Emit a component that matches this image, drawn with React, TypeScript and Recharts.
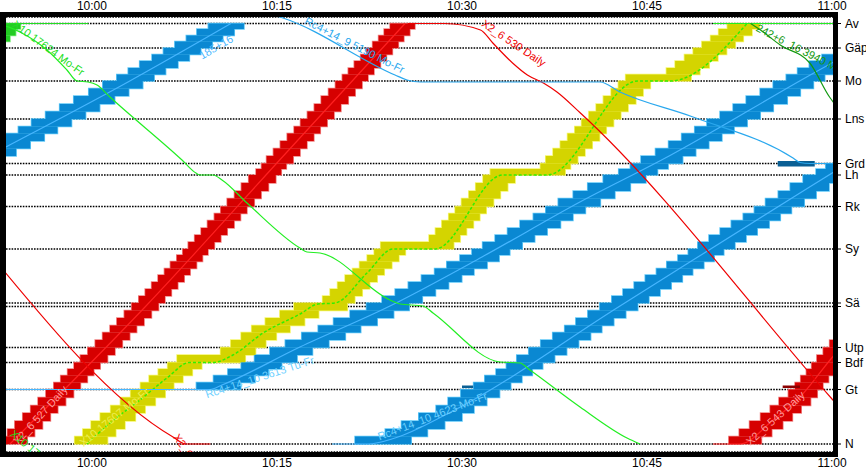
import React from "react";
import { ComposedChart, XAxis, YAxis, CartesianGrid, Line, ReferenceArea, Scatter } from "recharts";

type Pt = { t: number; km: number };

// stations (km from N), top to bottom
const STATIONS = ["Av", "Gäp", "Mo", "Lns", "Grd", "Lh", "Rk", "Sy", "Sä", "Utp", "Bdf", "Gt", "N"];
const STATION_KM = [84.1, 79.2, 72.6, 65.0, 56.1, 53.8, 47.5, 39.0, 28.2, 19.3, 16.3, 10.9, 0];
const SECOND_TRACK_KM = [27.5];

// block signals
const SIGNALS_KM = [
  0, 1.5, 3.0, 4.6, 6.2, 7.7, 9.3, 10.9, 12.3, 13.7, 15.0, 16.3, 17.8, 19.3, 20.8, 22.3, 23.7, 25.2, 26.7,
  28.2, 29.6, 31.0, 32.4, 33.8, 35.1, 36.5, 37.8, 39.0, 40.4, 41.8, 43.2, 44.7, 46.1, 47.5, 49.1, 50.6, 52.2,
  53.8, 55.0, 56.1, 57.6, 59.1, 60.6, 62.1, 63.5, 65.0, 66.5, 68.0, 69.6, 71.1, 72.6, 73.9, 75.2, 76.6, 77.9,
  79.2, 80.5, 81.7, 83.0, 84.1,
];

// minutes after 10:00
const TIME_TICKS = [0, 15, 30, 45, 60];

const RUN_185_16: Pt[] = [
  { t: -11.3, km: 53.8 }, { t: -6.97, km: 59.4 }, { t: 2.92, km: 72.4 }, { t: 11.27, km: 84.1 },
];
const RUN_X2_UP: Pt[] = [
  { t: -6.65, km: 0 }, { t: 4.3, km: 27.4 }, { t: 15.81, km: 58.4 }, { t: 25.38, km: 84.1 },
];
const RUN_X2_530: Pt[] = [
  { t: 25.6, km: 84.1 }, { t: 28.6, km: 84.1 }, { t: 31.5, km: 82.8 }, { t: 32.5, km: 80.2 },
  { t: 34.1, km: 76.2 }, { t: 35.3, km: 73.8 }, { t: 36.6, km: 72.2 }, { t: 37.7, km: 70.4 },
  { t: 39.6, km: 66.2 }, { t: 60.0, km: 9.0 }, { t: 61.5, km: 4.8 },
];
const RUN_X2_DOWN: Pt[] = [
  { t: -8.6, km: 39.0 }, { t: 6.57, km: 1.4 }, { t: 7.6, km: 0 }, { t: 9.6, km: 0 },
];
const RUN_X10_17624: Pt[] = [
  { t: -7.6, km: 84.1 }, { t: -5.84, km: 82.4 }, { t: -3.65, km: 78.8 }, { t: -2.03, km: 74.8 },
  { t: -1.22, km: 72.6 }, { t: -0.32, km: 72.4 }, { t: 0.41, km: 71.8 }, { t: 1.46, km: 69.4 },
  { t: 7.3, km: 56.8 }, { t: 8.43, km: 54.2 }, { t: 8.76, km: 53.8 }, { t: 9.81, km: 53.8 },
  { t: 10.54, km: 52.8 }, { t: 12.57, km: 48.2 }, { t: 16.86, km: 39.2 }, { t: 17.43, km: 38.4 },
  { t: 18.49, km: 38.2 }, { t: 24.16, km: 28.8 }, { t: 24.97, km: 28.0 }, { t: 26.84, km: 27.6 },
  { t: 27.65, km: 26.2 }, { t: 33.08, km: 16.4 }, { t: 34.7, km: 16.2 }, { t: 35.51, km: 14.8 },
  { t: 39.57, km: 7.4 }, { t: 43.38, km: 1.2 }, { t: 44.43, km: 0 },
];
const RUN_X10_ARR: Pt[] = [
  { t: -13, km: 66.0 }, { t: -6.6, km: 84.1 }, { t: -0.3, km: 84.1 },
];
const RUN_X10_17607: Pt[] = [
  { t: -0.4, km: 0 }, { t: 1.46, km: 4.2 }, { t: 3.89, km: 8.8 }, { t: 6.08, km: 13.2 },
  { t: 7.9, km: 16.3 }, { t: 9.81, km: 16.3 }, { t: 11.43, km: 17.8 }, { t: 13.87, km: 22.2 },
  { t: 16.87, km: 26.0 }, { t: 18.33, km: 28.0 }, { t: 19.7, km: 28.2 }, { t: 22.3, km: 34.2 },
  { t: 24.41, km: 39.0 }, { t: 27.81, km: 39.0 }, { t: 33.3, km: 53.8 }, { t: 36.89, km: 53.8 },
  { t: 44.27, km: 72.6 }, { t: 46.87, km: 72.6 }, { t: 53.11, km: 84.1 },
];
const RUN_AV_DWELL: Pt[] = [{ t: 50.35, km: 84.1 }, { t: 61, km: 84.1 }];
const RUN_242_6: Pt[] = [
  { t: 53.4, km: 84.1 }, { t: 54.2, km: 82.8 }, { t: 55.8, km: 79.8 }, { t: 58.2, km: 76.2 },
  { t: 59.8, km: 69.4 }, { t: 61, km: 65.8 },
];
const RUN_RC_3613: Pt[] = [
  { t: -8, km: 10.9 }, { t: 9.57, km: 10.9 }, { t: 10.54, km: 11.8 }, { t: 16.86, km: 19.4 },
  { t: 24.16, km: 27.6 }, { t: 31.62, km: 37.4 }, { t: 39.41, km: 48.2 }, { t: 46.79, km: 57.6 },
  { t: 58.38, km: 74.0 }, { t: 61.46, km: 78.2 },
];
const RUN_RC_4623: Pt[] = [
  { t: 19.46, km: 0 }, { t: 22.38, km: 0 }, { t: 24.57, km: 1.2 }, { t: 28.95, km: 6.2 },
  { t: 42.81, km: 27.6 }, { t: 58.05, km: 51.2 }, { t: 61.46, km: 56.4 },
];
const RUN_RC_5190: Pt[] = [
  { t: 14.43, km: 86.0 }, { t: 15.49, km: 85.2 }, { t: 24.57, km: 73.8 }, { t: 25.54, km: 72.8 },
  { t: 26.6, km: 72.4 }, { t: 41.19, km: 72.4 }, { t: 42.81, km: 70.4 }, { t: 48.73, km: 65.4 },
  { t: 56.84, km: 57.2 }, { t: 57.4, km: 56.3 }, { t: 58.2, km: 56.1 }, { t: 61, km: 56.1 },
];
const RUN_X2_LATE: Pt[] = [
  { t: 50.35, km: 0 }, { t: 52.54, km: 0 }, { t: 55.22, km: 4.8 }, { t: 57.41, km: 9.4 },
  { t: 59.84, km: 16.8 }, { t: 62.27, km: 23.8 },
];

// short occupations [t0, t1, km0, km1]
const OCC_BLUE = [[55.6, 58.6, 55.5, 56.6], [30.0, 30.9, 11.2, 11.7]];
const OCC_RED = [[56.0, 57.4, 11.2, 11.7]];

const LABELS = [
  { t: 10.05, km: 79.4, text: "185+16" },
  { t: 21.3, km: 79.8, text: "Rc4+14_9 5190 Mo-Fr" },
  { t: 34.2, km: 80.2, text: "X2_6 530 Daily" },
  { t: -3.5, km: 79.2, text: "X10 17624 Mo-Fr" },
  { t: 53.92, km: 83.4, text: "242+6_16 3940 Mo-Fr" },
  { t: 1.8, km: 5.4, text: "X10 17607 Mo-Fr" },
  { t: 13.6, km: 13.4, text: "Rc4+14_10 3613 Tu-Fr" },
  { t: 27.6, km: 5.6, text: "Rc4+14_10 4623 Mo-Fr" },
  { t: -4.2, km: 5.8, text: "X2_6 527 Daily" },
  { t: 55.4, km: 5.2, text: "X2_6 543 Daily" },
  { t: 6.81, km: 1.8, text: "X2_6 528 Daily" },
  { t: -6.49, km: 2.4, text: "X10 17022 Mo-Fr" },
];

const LABEL_LOOK: Record<string, { color: string; angle: number; anchor?: string }> = {
  "185+16": { color: "#47b6ff", angle: -30 },
  "Rc4+14_9 5190 Mo-Fr": { color: "#2aa8ee", angle: 27 },
  "X2_6 530 Daily": { color: "#ee0000", angle: 34 },
  "X10 17624 Mo-Fr": { color: "#22dd22", angle: 36 },
  "242+6_16 3940 Mo-Fr": { color: "#119911", angle: 27, anchor: "start" },
  "X10 17607 Mo-Fr": { color: "#eeee50", angle: -39 },
  "Rc4+14_10 3613 Tu-Fr": { color: "#6cd0ff", angle: -18 },
  "Rc4+14_10 4623 Mo-Fr": { color: "#6cd0ff", angle: -21 },
  "X2_6 527 Daily": { color: "#ff9a9a", angle: -48 },
  "X2_6 543 Daily": { color: "#ff9a9a", angle: -42 },
  "X2_6 528 Daily": { color: "#ee0000", angle: 55, anchor: "start" },
  "X10 17022 Mo-Fr": { color: "#22dd22", angle: 40, anchor: "start" },
};

const BLUE = { fill: "#0a88d2", edge: "#5ec8f8" };
const RED = { fill: "#d60000", edge: "#f08080" };
const YELLOW = { fill: "#d4d400", edge: "#f6f66a" };
const GREEN = { fill: "#22cc22", edge: "#80ee80" };

const TRAINS = [
  { path: RUN_185_16, color: "#47b6ff", band: { ...BLUE, from: 0, to: 3, pad: 1.05 } },
  { path: RUN_X2_UP, color: "#ff2020", band: { ...RED, from: 0, to: 3, pad: 0.8 } },
  { path: RUN_X10_ARR, color: "#22dd22", band: { ...GREEN, from: 0, to: 1, pad: 0.8 } },
  { path: RUN_X10_17607, color: "#33ee00", dash: "3 2", width: 1.5, band: { ...YELLOW, from: 0, to: 18, pad: 1.0 } },
  { path: RUN_RC_3613, color: "#47b6ff", band: { ...BLUE, from: 1, to: 9, pad: 1.1 } },
  { path: RUN_RC_4623, color: "#47b6ff", band: { ...BLUE, from: 1, to: 6, pad: 1.05 } },
  { path: RUN_X2_LATE, color: "#ff2020", band: { ...RED, from: 1, to: 5, pad: 0.9 } },
  { path: RUN_X2_530, color: "#ee0000" },
  { path: RUN_X2_DOWN, color: "#ee0000" },
  { path: RUN_X10_17624, color: "#22ee22" },
  { path: RUN_AV_DWELL, color: "#22ee22" },
  { path: RUN_242_6, color: "#119911" },
  { path: RUN_RC_5190, color: "#2aa8ee" },
];

const FONT = "'Liberation Sans', Arial, sans-serif";

function firstReach(path: Pt[], s: number) {
  for (let i = 0; i < path.length; i++) {
    if (path[i].km >= s - 1e-9) {
      if (i === 0) return path[0].t;
      const a = path[i - 1], b = path[i];
      return a.t + ((s - a.km) / (b.km - a.km)) * (b.t - a.t);
    }
  }
  return path[path.length - 1].t;
}

// blocking rectangles of an up train, one per signal section
function blocking(path: Pt[], pad: number) {
  const k0 = path[0].km, k1 = path[path.length - 1].km;
  const out: { x1: number; x2: number; y1: number; y2: number }[] = [];
  for (let i = 0; i < SIGNALS_KM.length - 1; i++) {
    const a = SIGNALS_KM[i], b = SIGNALS_KM[i + 1];
    if (b <= k0 + 1e-9 || a >= k1 - 1e-9) continue;
    const tin = a >= k0 ? firstReach(path, a) : path[0].t;
    const tout = b <= k1 ? firstReach(path, b) : path[path.length - 1].t;
    out.push({ x1: tin - pad, x2: tout + pad, y1: a, y2: b });
  }
  return out;
}

const fmtTime = (m: number) => {
  const h = 10 + Math.floor(m / 60);
  return `${h}:${String(Math.round(m % 60)).padStart(2, "0")}`;
};

const kmName = (v: number) => {
  const i = STATION_KM.indexOf(v);
  return i >= 0 ? STATIONS[i] : "";
};

const renderLabel = (props: any) => {
  const { cx, cy, payload } = props;
  const look = LABEL_LOOK[payload.text];
  return (
    <text
      x={cx}
      y={cy}
      transform={`rotate(${look.angle} ${cx} ${cy})`}
      textAnchor={look.anchor || "middle"}
      dominantBaseline="central"
      fontSize={11}
      fontFamily={FONT}
      fill={look.color}
    >
      {payload.text}
    </text>
  );
};

export default function App() {
  const yTicks = [...STATION_KM, ...SECOND_TRACK_KM].sort((a, b) => a - b);
  const bands = TRAINS.filter((tr) => tr.band).map((tr) => ({
    look: tr.band!,
    rects: blocking(tr.path.slice(tr.band!.from, tr.band!.to + 1), tr.band!.pad),
  }));
  return (
    <div style={{ position: "absolute", left: 0, top: 0, width: 866, height: 468, background: "#fff" }}>
      <ComposedChart width={866} height={468} margin={{ top: 0, right: 0, bottom: 0, left: 6 }}>
        <CartesianGrid vertical={false} stroke="#000" strokeDasharray="1.6 1.2" strokeWidth={1.5} />
        <XAxis
          dataKey="t"
          type="number"
          domain={[-6.97, 60.08]}
          allowDataOverflow
          ticks={TIME_TICKS}
          interval={0}
          tickFormatter={fmtTime}
          height={16}
          axisLine={false}
          tickSize={4}
          tickMargin={2}
          tick={{ fontSize: 12, fill: "#000", fontFamily: FONT }}
          tickLine={{ stroke: "#000" }}
        />
        <XAxis
          xAxisId="top"
          orientation="top"
          dataKey="t"
          type="number"
          domain={[-6.97, 60.08]}
          allowDataOverflow
          ticks={TIME_TICKS}
          interval={0}
          tickFormatter={fmtTime}
          height={17}
          axisLine={false}
          tickSize={4}
          tickMargin={3}
          tick={{ fontSize: 12, fill: "#000", fontFamily: FONT }}
          tickLine={{ stroke: "#000" }}
        />
        <YAxis
          orientation="right"
          type="number"
          domain={[-1.6, 85.4]}
          allowDataOverflow
          ticks={yTicks}
          interval={0}
          tickFormatter={kmName}
          width={33}
          axisLine={false}
          tickSize={8}
          tickMargin={4}
          tick={{ fontSize: 12, fill: "#000", fontFamily: FONT }}
          tickLine={{ stroke: "#000" }}
        />
        {/* light halo first, then solid fill on top so only the outer edge stays light */}
        {bands.map((bd, ti) =>
          bd.rects.map((b, bi) => (
            <ReferenceArea
              key={`h${ti}-${bi}`}
              x1={b.x1}
              x2={b.x2}
              y1={b.y1}
              y2={b.y2}
              fill={bd.look.edge}
              fillOpacity={1}
              stroke={bd.look.edge}
              strokeWidth={1.6}
              ifOverflow="hidden"
            />
          ))
        )}
        {bands.map((bd, ti) =>
          bd.rects.map((b, bi) => (
            <ReferenceArea
              key={`f${ti}-${bi}`}
              x1={b.x1}
              x2={b.x2}
              y1={b.y1}
              y2={b.y2}
              fill={bd.look.fill}
              fillOpacity={1}
              stroke="none"
              ifOverflow="hidden"
            />
          ))
        )}
        {OCC_BLUE.map((o, i) => (
          <ReferenceArea key={`ob${i}`} x1={o[0]} x2={o[1]} y1={o[2]} y2={o[3]} fill="#0a5f94" fillOpacity={1} stroke="none" ifOverflow="hidden" />
        ))}
        {OCC_RED.map((o, i) => (
          <ReferenceArea key={`or${i}`} x1={o[0]} x2={o[1]} y1={o[2]} y2={o[3]} fill="#8a0000" fillOpacity={1} stroke="none" ifOverflow="hidden" />
        ))}
        {TRAINS.map((tr, i) => (
          <Line
            key={`l${i}`}
            data={tr.path}
            dataKey="km"
            type="monotoneX"
            stroke={tr.color}
            strokeWidth={tr.width || 1.2}
            strokeDasharray={tr.dash}
            dot={false}
            activeDot={false}
            isAnimationActive={false}
          />
        ))}
        <Scatter data={LABELS} dataKey="km" shape={renderLabel} isAnimationActive={false} />
      </ComposedChart>
      <div
        style={{
          position: "absolute",
          left: 0,
          top: 12,
          width: 838,
          height: 445,
          boxSizing: "border-box",
          borderLeft: "6px solid #000",
          borderTop: "5px solid #000",
          borderRight: "5px solid #000",
          borderBottom: "5px solid #000",
          pointerEvents: "none",
        }}
      />
    </div>
  );
}
